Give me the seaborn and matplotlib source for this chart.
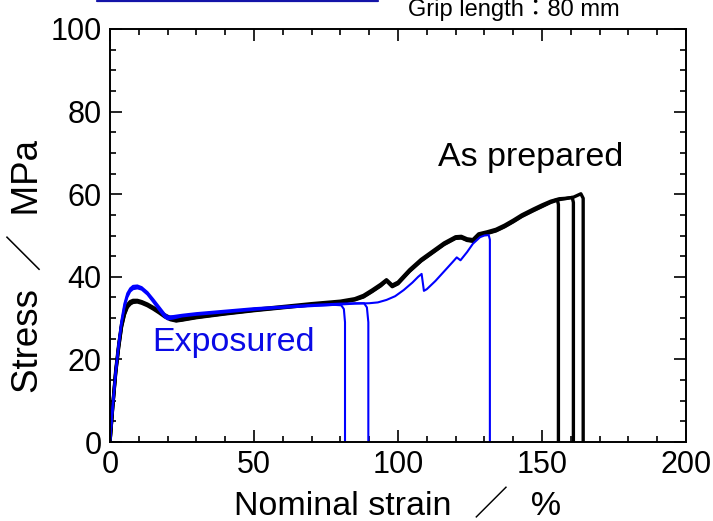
import matplotlib
matplotlib.use("Agg")
import matplotlib.pyplot as plt
from matplotlib.lines import Line2D
from matplotlib.ticker import MultipleLocator
import seaborn as sns
import pandas as pd

# ---- data ----
# As prepared specimens (black)
ap1_x = [0, 1, 2, 3, 4, 5, 6, 7, 8, 9.5, 11, 13, 15, 17, 19, 21, 23, 25, 30, 40, 50, 60, 70, 80, 85, 88, 91, 94, 96, 98, 100, 104, 108, 112, 116, 120, 122, 124, 126, 128, 131, 134, 137, 140, 143, 147, 150, 153, 155.3, 155.7, 155.7]
ap1_y = [0, 9, 17, 23, 28, 31, 32.8, 33.6, 34.0, 34.1, 33.8, 33.2, 32.4, 31.5, 30.5, 29.8, 29.4, 29.6, 30.2, 31.1, 31.9, 32.6, 33.3, 33.9, 34.5, 35.2, 36.5, 37.9, 39.1, 37.7, 38.4, 41.4, 43.9, 45.9, 47.9, 49.4, 49.5, 48.9, 48.7, 50.1, 50.6, 51.2, 52.2, 53.4, 54.7, 56.1, 57.1, 58.1, 58.7, 57.5, 0]
ap2_x = [0, 1, 2, 3, 4, 5, 6, 7, 8, 9.5, 11, 13, 15, 17, 19, 21, 23, 25, 30, 40, 50, 60, 70, 80, 85, 88, 91, 94, 96, 98, 100, 104, 108, 112, 116, 120, 122, 124, 126, 128, 131, 134, 137, 140, 143, 147, 150, 153, 156, 158, 160.5, 160.9, 160.9]
ap2_y = [0, 9.3, 17.5, 23.5, 28.5, 31.5, 33.2, 34.0, 34.3, 34.3, 34.0, 33.4, 32.6, 31.7, 30.8, 30.1, 29.8, 29.9, 30.4, 31.3, 32.1, 32.8, 33.5, 34.1, 34.7, 35.5, 36.8, 38.2, 39.3, 38.0, 38.7, 41.7, 44.2, 46.2, 48.2, 49.7, 49.8, 49.2, 49.0, 50.4, 50.9, 51.5, 52.5, 53.7, 55.0, 56.4, 57.4, 58.3, 58.9, 59.0, 59.2, 58.0, 0]
ap3_x = [0, 1, 2, 3, 4, 5, 6, 7, 8, 9.5, 11, 13, 15, 17, 19, 21, 23, 25, 30, 40, 50, 60, 70, 80, 85, 88, 91, 94, 96, 98, 100, 104, 108, 112, 116, 120, 122, 124, 126, 128, 131, 134, 137, 140, 143, 147, 150, 153, 156, 158, 161, 163.5, 164.3, 164.3]
ap3_y = [0, 8.8, 16.8, 22.8, 27.8, 30.8, 32.6, 33.4, 33.8, 33.9, 33.6, 33.0, 32.2, 31.3, 30.3, 29.6, 29.3, 29.5, 30.1, 31.0, 31.8, 32.5, 33.2, 33.8, 34.4, 35.1, 36.4, 37.8, 39.0, 37.6, 38.3, 41.3, 43.8, 45.8, 47.8, 49.3, 49.4, 48.8, 48.6, 50.0, 50.5, 51.1, 52.1, 53.3, 54.6, 56.0, 57.0, 58.0, 58.7, 58.9, 59.3, 60.1, 59.0, 0]

# Exposured specimens (blue)
ex1_x = [0, 1, 2, 3, 4, 5, 6, 7, 8, 9.5, 11, 13, 15, 17, 19, 20, 22, 25, 30, 40, 50, 60, 70, 78, 80.3, 81.2, 81.6, 81.6]
ex1_y = [0, 9, 17, 23.5, 29, 33, 35.5, 36.8, 37.4, 37.6, 37.2, 36.0, 34.2, 32.4, 30.5, 30.0, 30.2, 30.6, 31.0, 31.6, 32.2, 32.6, 33.0, 33.2, 33.1, 32.2, 29.0, 0]
ex2_x = [0, 1, 2, 3, 4, 5, 6, 7, 8, 9.5, 11, 13, 15, 17, 19, 20, 22, 25, 30, 40, 50, 60, 70, 80, 85, 88.2, 89.2, 89.7, 89.7]
ex2_y = [0, 9.4, 17.6, 24.2, 29.6, 33.5, 36.0, 37.2, 37.8, 37.9, 37.5, 36.3, 34.6, 32.8, 31.0, 30.4, 30.5, 30.8, 31.2, 31.8, 32.4, 32.8, 33.2, 33.5, 33.6, 33.6, 32.6, 29.0, 0]
ex3_x = [0, 1, 2, 3, 4, 5, 6, 7, 8, 9.5, 11, 13, 15, 17, 19, 20, 22, 25, 30, 40, 50, 60, 70, 80, 85, 90, 93, 96, 99, 102, 105, 107, 108.2, 109, 110, 113, 116, 119, 120.4, 121.7, 124, 126, 128.5, 130, 131.5, 131.9, 131.9]
ex3_y = [0, 8.7, 16.6, 23.0, 28.5, 32.5, 35.0, 36.4, 37.0, 37.2, 36.9, 35.7, 33.9, 32.0, 30.2, 29.7, 29.9, 30.4, 30.8, 31.4, 32.0, 32.5, 32.9, 33.3, 33.5, 33.6, 33.8, 34.4, 35.3, 36.8, 38.6, 40.0, 40.7, 36.6, 37.0, 39.0, 41.3, 43.6, 44.7, 44.0, 46.0, 48.0, 49.6, 50.0, 50.1, 49.0, 0]

x_ticks = [0, 50, 100, 150, 200]
y_ticks = [0, 20, 40, 60, 80, 100]

# ---- long table ----
rows = []
for name, xs, ys in [("AP1", ap1_x, ap1_y), ("AP2", ap2_x, ap2_y), ("AP3", ap3_x, ap3_y)]:
    for i, (a, b) in enumerate(zip(xs, ys)):
        rows.append(dict(group="As prepared", specimen=name, order=i, strain=a, stress=b))
for name, xs, ys in [("EX1", ex1_x, ex1_y), ("EX2", ex2_x, ex2_y), ("EX3", ex3_x, ex3_y)]:
    for i, (a, b) in enumerate(zip(xs, ys)):
        rows.append(dict(group="Exposured", specimen=name, order=i, strain=a, stress=b))
df = pd.DataFrame(rows)

sns.set_style("ticks")
plt.rcParams["font.family"] = ["Liberation Sans", "Noto Sans CJK JP", "DejaVu Sans"]
plt.rcParams["text.color"] = "black"
plt.rcParams["axes.labelcolor"] = "black"
plt.rcParams["xtick.color"] = "black"
plt.rcParams["ytick.color"] = "black"

fig = plt.figure(figsize=(7.13, 5.21), dpi=100)
ax = fig.add_axes([110 / 713, 79 / 521, 576 / 713, 413 / 521])

sns.lineplot(data=df[df.group == "As prepared"], x="strain", y="stress", units="specimen",
             estimator=None, sort=False, color="black", linewidth=2.4, ax=ax, legend=False)
sns.lineplot(data=df[df.group == "Exposured"], x="strain", y="stress", units="specimen",
             estimator=None, sort=False, color="#0000ff", linewidth=1.5, ax=ax, legend=False)

ax.set_xlim(0, 200)
ax.set_ylim(0, 100)
ax.set_xticks(x_ticks)
ax.set_yticks(y_ticks)
ax.xaxis.set_minor_locator(MultipleLocator(10))
ax.yaxis.set_minor_locator(MultipleLocator(5))
ax.tick_params(which="both", direction="in", top=True, right=True, color="black",
               labelcolor="black", width=1.2)
ax.tick_params(which="major", length=8.5, labelsize=22, pad=6)
ax.tick_params(which="minor", length=4.5)
for sp in ax.spines.values():
    sp.set_color("black")
    sp.set_linewidth(1.4)

ax.set_xlabel("Nominal strain\u2002\u2006\uff0f\u2002\u2006%", fontsize=24.5, labelpad=7.5)
ax.set_ylabel("Stress\u2002\uff0f\u2002MPa", fontsize=26.5)
ax.yaxis.set_label_coords(-0.111, 0.426)

ax.text(113.9, 68.8, "As prepared", fontsize=24.5, color="black", ha="left", va="center")
ax.text(14.6, 24.2, "Exposured", fontsize=24.5, color="#0a0ae6", ha="left", va="center")

fig.text(620 / 713, 1 - 10 / 521, "Grip length\uff1a80 mm", fontsize=17, ha="right", va="center")
fig.add_artist(Line2D([97 / 713, 378 / 713], [1 - 1 / 521, 1 - 1 / 521],
                      transform=fig.transFigure, color="#1414a8", linewidth=1.6))

fig.savefig("out.png", dpi=100)
